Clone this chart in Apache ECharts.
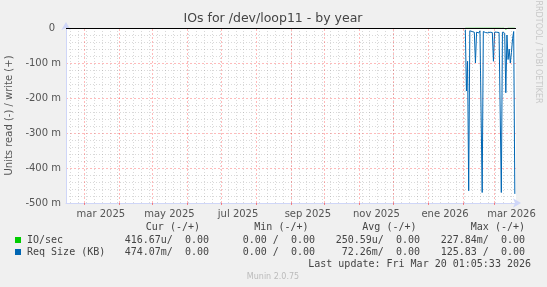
<!DOCTYPE html>
<html><head><meta charset="utf-8">
<script src="https://cdn.jsdelivr.net/npm/echarts@6/dist/echarts.min.js"></script>
<style>html,body{margin:0;padding:0;background:#f0f0f0;}#c{width:547px;height:287px;}</style>
</head><body><div id="c"></div>
<script>
// ---- time range (400 days ending at last update) ----
const startTime = Date.UTC(2025, 1, 13, 1, 5);
const endTime = Date.UTC(2026, 2, 20, 1, 5);
const seriesStartDate = Date.UTC(2026, 1, 1);
const DAY = 86400000;

// ---- daily values (milli units; negative = read) ----
const reqSizeRead = [null, null, -5, -180, -95, -465, -8, -8, -10, -9, -12, -100, -12, -10, -14, -8, -10, -470,
  -10, -12, -13, -12, -14, -13, -12, -14, -13, -95, -12, -13, -12, -14, -13, -15, -470, -12, -10, -15, -185,
  -20, -90, -60, -100, -70, -30, -10, -474];
const ioRead = [null, null, -0.3, -3, -0.4, -0.5, -0.3, -0.2, -0.3, -0.2, -0.3, -0.4, -0.2, -0.3, -0.2, -0.3, -0.2, -0.5,
  -0.2, -0.3, -0.2, -0.3, -0.2, -0.3, -0.2, -0.3, -0.2, -0.4, -0.2, -0.3, -0.2, -0.3, -0.2, -0.3, -0.5, -0.2, -0.3, -0.2, -3,
  -0.3, -0.4, -0.3, -0.4, -0.3, -0.3, -0.2, -0.42];

// ---- axes ----
const xLabelDates = [Date.UTC(2025,2,16), Date.UTC(2025,4,16), Date.UTC(2025,6,16), Date.UTC(2025,8,16),
  Date.UTC(2025,10,16), Date.UTC(2026,0,16), Date.UTC(2026,2,16)];
const xLabelTexts = ['mar 2025', 'may 2025', 'jul 2025', 'sep 2025', 'nov 2025', 'ene 2026', 'mar 2026'];
const monthLines = [Date.UTC(2025,2,1), Date.UTC(2025,3,1), Date.UTC(2025,4,1), Date.UTC(2025,5,1), Date.UTC(2025,6,1),
  Date.UTC(2025,7,1), Date.UTC(2025,8,1), Date.UTC(2025,9,1), Date.UTC(2025,10,1), Date.UTC(2025,11,1),
  Date.UTC(2026,0,1), Date.UTC(2026,1,1), Date.UTC(2026,2,1)];
const firstMonday = Date.UTC(2025, 1, 17);

// ---- legend text ----
const titleText = 'IOs for /dev/loop11 - by year';
const yAxisTitle = 'Units read (-) / write (+)';
const legendHeaders = ['Cur (-/+)', 'Min (-/+)', 'Avg (-/+)', 'Max (-/+)'];
const legendNames = ['IO/sec', 'Req Size (KB)'];
const legendColors = ['#00CC00', '#0066B3'];
const legendIO = ['416.67u/  0.00', '0.00 /  0.00', '250.59u/  0.00', '227.84m/  0.00'];
const legendReq = ['474.07m/  0.00', '0.00 /  0.00', '72.26m/  0.00', '125.83 /  0.00'];
const lastUpdate = 'Last update: Fri Mar 20 01:05:33 2026';
const muninVersion = 'Munin 2.0.75';
const watermark = 'RRDTOOL / TOBI OETIKER';

const weekLines = [];
for (let t = firstMonday; t < endTime; t += 7 * DAY) weekLines.push(t);

const toPts = arr => arr.map((v, i) => [seriesStartDate + i * DAY, v]);

const mono = '"DejaVu Sans Mono", monospace';
const sans = '"DejaVu Sans", sans-serif';
const txtColor = '#444';

const colRight = [209, 315, 420, 525];
const hdrRight = [200, 308.5, 416.5, 525];
const graphics = [];
graphics.push({type:'text', style:{text:titleText, x:273, y:19, textAlign:'center', textVerticalAlign:'middle', verticalAlign:'middle', fill:txtColor, font:'12.5px ' + sans}});
graphics.push({type:'text', rotation:-Math.PI/2, x:538, y:52, style:{text:watermark, x:0, y:0, textAlign:'center', textVerticalAlign:'middle', verticalAlign:'middle', fill:'#c8c8c8', font:'8px ' + sans}});
legendHeaders.forEach((h, i) => graphics.push({type:'text', style:{text:h, x:hdrRight[i], y:227, textAlign:'right', textVerticalAlign:'middle', verticalAlign:'middle', fill:txtColor, font:'10px ' + mono}}));
[legendIO, legendReq].forEach((row, r) => {
  const y = 240 + r * 12;
  graphics.push({type:'rect', shape:{x:15, y:y-3, width:6, height:6}, style:{fill:legendColors[r]}});
  graphics.push({type:'text', style:{text:legendNames[r], x:27, y:y, textAlign:'left', textVerticalAlign:'middle', verticalAlign:'middle', fill:txtColor, font:'10px ' + mono}});
  row.forEach((v, i) => graphics.push({type:'text', style:{text:v, x:colRight[i], y:y, textAlign:'right', textVerticalAlign:'middle', verticalAlign:'middle', fill:txtColor, font:'10px ' + mono}}));
});
graphics.push({type:'text', style:{text:lastUpdate, x:531, y:264, textAlign:'right', textVerticalAlign:'middle', verticalAlign:'middle', fill:txtColor, font:'10px ' + mono}});
graphics.push({type:'text', style:{text:muninVersion, x:273, y:277, textAlign:'center', textVerticalAlign:'middle', verticalAlign:'middle', fill:'#bbbbbb', font:'8px ' + sans}});

const majorStyle = {color:'rgba(255,0,0,0.27)', type:[2,2], width:1};
const minorStyle = {color:'rgba(130,130,130,0.3)', type:[1,2], width:1};

const chart = echarts.init(document.getElementById('c'), null, {renderer:'canvas'});
chart.setOption({
  backgroundColor:'#f0f0f0',
  animation:false,
  grid:{left:66, right:31, top:28, bottom:84, show:true, backgroundColor:'#ffffff', borderWidth:0, containLabel:false, outerBoundsMode:'none'},
  xAxis:{type:'value', min:startTime, max:endTime,
    axisLine:{show:true, onZero:false, lineStyle:{color:'#CFD6F8', width:1}, symbol:['none','arrow'], symbolSize:[7,8], symbolOffset:[0,5]},
    axisTick:{show:true, customValues:monthLines, length:2, inside:false, lineStyle:{color:'rgba(255,0,0,0.45)'}},
    splitLine:{show:false},
    axisLabel:{customValues:xLabelDates, formatter:(v) => xLabelTexts[xLabelDates.indexOf(v)] || '', color:'#555', fontSize:10, fontFamily:'DejaVu Sans', margin:6, hideOverlap:false}
  },
  yAxis:{type:'value', min:-500, max:0, interval:100,
    name:yAxisTitle, nameLocation:'middle', nameGap:50, nameRotate:90, nameTextStyle:{color:'#555', fontSize:10, fontFamily:'DejaVu Sans'},
    axisLine:{show:true, lineStyle:{color:'#CFD6F8', width:1}, symbol:['none','arrow'], symbolSize:[7,8], symbolOffset:[0,6]},
    axisTick:{show:false},
    axisLabel:{formatter:v => v === 0 ? '{z|0}' : v + ' m', color:'#555', fontSize:10, fontFamily:'DejaVu Sans', margin:5,
      rich:{z:{color:'#555', fontSize:10, fontFamily:'DejaVu Sans', padding:[0,6,0,0]}}},
    splitLine:{show:true, lineStyle:majorStyle},
    minorTick:{show:false, splitNumber:5},
    minorSplitLine:{show:true, lineStyle:minorStyle}
  },
  graphic:graphics,
  series:[
    {type:'line', name:'grid', data:[], z:1, silent:true,
      markLine:{silent:true, symbol:'none', label:{show:false}, animation:false,
        data:[
          ...weekLines.map(t => ({xAxis:t, lineStyle:minorStyle})),
          ...monthLines.map(t => ({xAxis:t, lineStyle:majorStyle}))
        ]}},
    {type:'line', name:'IO/sec', data:toPts(ioRead), showSymbol:false, z:2, lineStyle:{color:'#00CC00', width:1}, itemStyle:{color:'#00CC00'}, connectNulls:false},
    {type:'line', name:'Req Size (KB)', data:toPts(reqSizeRead), showSymbol:false, z:3, lineStyle:{color:'#0066B3', width:1}, itemStyle:{color:'#0066B3'}, connectNulls:false},
    {type:'line', name:'zero', data:[], z:4, silent:true,
      markLine:{silent:true, symbol:'none', label:{show:false}, animation:false,
        data:[{yAxis:0, lineStyle:{color:'#000000', type:'solid', width:1}}]}}
  ]
});
</script>
</body></html>
